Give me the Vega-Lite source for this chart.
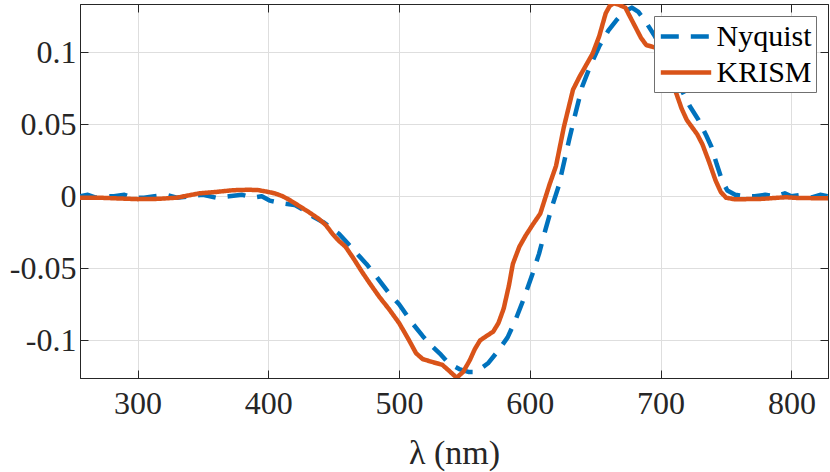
{
  "$schema": "https://vega.github.io/schema/vega-lite/v6.json",
  "autosize": "none",
  "padding": {"left": 80, "top": 4, "right": 2, "bottom": 94},
  "width": 748,
  "height": 374,
  "background": "white",
  "datasets": {
    "spectra": [
      {"lambda": 256, "value": 0.000, "series": "Nyquist"},
      {"lambda": 262, "value": 0.001, "series": "Nyquist"},
      {"lambda": 268, "value": -0.001, "series": "Nyquist"},
      {"lambda": 275, "value": 0.000, "series": "Nyquist"},
      {"lambda": 282, "value": 0.000, "series": "Nyquist"},
      {"lambda": 290, "value": 0.001, "series": "Nyquist"},
      {"lambda": 297, "value": -0.001, "series": "Nyquist"},
      {"lambda": 305, "value": -0.001, "series": "Nyquist"},
      {"lambda": 313, "value": 0.000, "series": "Nyquist"},
      {"lambda": 322, "value": 0.001, "series": "Nyquist"},
      {"lambda": 330, "value": -0.001, "series": "Nyquist"},
      {"lambda": 340, "value": 0.000, "series": "Nyquist"},
      {"lambda": 350, "value": 0.001, "series": "Nyquist"},
      {"lambda": 360, "value": -0.001, "series": "Nyquist"},
      {"lambda": 370, "value": 0.000, "series": "Nyquist"},
      {"lambda": 380, "value": 0.001, "series": "Nyquist"},
      {"lambda": 388, "value": -0.001, "series": "Nyquist"},
      {"lambda": 395, "value": 0.000, "series": "Nyquist"},
      {"lambda": 401, "value": -0.003, "series": "Nyquist"},
      {"lambda": 406, "value": -0.004, "series": "Nyquist"},
      {"lambda": 412, "value": -0.005, "series": "Nyquist"},
      {"lambda": 420, "value": -0.006, "series": "Nyquist"},
      {"lambda": 428, "value": -0.010, "series": "Nyquist"},
      {"lambda": 434, "value": -0.014, "series": "Nyquist"},
      {"lambda": 442, "value": -0.018, "series": "Nyquist"},
      {"lambda": 448, "value": -0.022, "series": "Nyquist"},
      {"lambda": 454, "value": -0.026, "series": "Nyquist"},
      {"lambda": 460, "value": -0.032, "series": "Nyquist"},
      {"lambda": 467, "value": -0.039, "series": "Nyquist"},
      {"lambda": 475, "value": -0.047, "series": "Nyquist"},
      {"lambda": 482, "value": -0.055, "series": "Nyquist"},
      {"lambda": 492, "value": -0.067, "series": "Nyquist"},
      {"lambda": 500, "value": -0.075, "series": "Nyquist"},
      {"lambda": 510, "value": -0.088, "series": "Nyquist"},
      {"lambda": 518, "value": -0.097, "series": "Nyquist"},
      {"lambda": 525, "value": -0.104, "series": "Nyquist"},
      {"lambda": 532, "value": -0.110, "series": "Nyquist"},
      {"lambda": 538, "value": -0.116, "series": "Nyquist"},
      {"lambda": 546, "value": -0.120, "series": "Nyquist"},
      {"lambda": 553, "value": -0.122, "series": "Nyquist"},
      {"lambda": 558, "value": -0.122, "series": "Nyquist"},
      {"lambda": 562, "value": -0.120, "series": "Nyquist"},
      {"lambda": 568, "value": -0.116, "series": "Nyquist"},
      {"lambda": 576, "value": -0.107, "series": "Nyquist"},
      {"lambda": 583, "value": -0.098, "series": "Nyquist"},
      {"lambda": 589, "value": -0.086, "series": "Nyquist"},
      {"lambda": 595, "value": -0.072, "series": "Nyquist"},
      {"lambda": 602, "value": -0.054, "series": "Nyquist"},
      {"lambda": 607, "value": -0.040, "series": "Nyquist"},
      {"lambda": 612, "value": -0.023, "series": "Nyquist"},
      {"lambda": 617, "value": -0.007, "series": "Nyquist"},
      {"lambda": 622, "value": 0.007, "series": "Nyquist"},
      {"lambda": 630, "value": 0.039, "series": "Nyquist"},
      {"lambda": 635, "value": 0.058, "series": "Nyquist"},
      {"lambda": 640, "value": 0.076, "series": "Nyquist"},
      {"lambda": 646, "value": 0.090, "series": "Nyquist"},
      {"lambda": 653, "value": 0.104, "series": "Nyquist"},
      {"lambda": 660, "value": 0.115, "series": "Nyquist"},
      {"lambda": 666, "value": 0.122, "series": "Nyquist"},
      {"lambda": 672, "value": 0.128, "series": "Nyquist"},
      {"lambda": 678, "value": 0.131, "series": "Nyquist"},
      {"lambda": 683, "value": 0.128, "series": "Nyquist"},
      {"lambda": 688, "value": 0.122, "series": "Nyquist"},
      {"lambda": 695, "value": 0.112, "series": "Nyquist"},
      {"lambda": 703, "value": 0.099, "series": "Nyquist"},
      {"lambda": 710, "value": 0.086, "series": "Nyquist"},
      {"lambda": 716, "value": 0.074, "series": "Nyquist"},
      {"lambda": 722, "value": 0.063, "series": "Nyquist"},
      {"lambda": 729, "value": 0.053, "series": "Nyquist"},
      {"lambda": 735, "value": 0.042, "series": "Nyquist"},
      {"lambda": 739, "value": 0.034, "series": "Nyquist"},
      {"lambda": 743, "value": 0.022, "series": "Nyquist"},
      {"lambda": 747, "value": 0.011, "series": "Nyquist"},
      {"lambda": 751, "value": 0.004, "series": "Nyquist"},
      {"lambda": 757, "value": 0.001, "series": "Nyquist"},
      {"lambda": 765, "value": 0.000, "series": "Nyquist"},
      {"lambda": 772, "value": 0.000, "series": "Nyquist"},
      {"lambda": 780, "value": 0.001, "series": "Nyquist"},
      {"lambda": 788, "value": 0.000, "series": "Nyquist"},
      {"lambda": 795, "value": 0.002, "series": "Nyquist"},
      {"lambda": 800, "value": 0.000, "series": "Nyquist"},
      {"lambda": 808, "value": 0.001, "series": "Nyquist"},
      {"lambda": 815, "value": -0.001, "series": "Nyquist"},
      {"lambda": 822, "value": 0.001, "series": "Nyquist"},
      {"lambda": 828, "value": 0.000, "series": "Nyquist"},
      {"lambda": 256, "value": -0.001, "series": "KRISM"},
      {"lambda": 270, "value": -0.001, "series": "KRISM"},
      {"lambda": 285, "value": -0.0015, "series": "KRISM"},
      {"lambda": 300, "value": -0.002, "series": "KRISM"},
      {"lambda": 316, "value": -0.0018, "series": "KRISM"},
      {"lambda": 330, "value": -0.001, "series": "KRISM"},
      {"lambda": 347, "value": 0.002, "series": "KRISM"},
      {"lambda": 360, "value": 0.003, "series": "KRISM"},
      {"lambda": 373, "value": 0.0042, "series": "KRISM"},
      {"lambda": 385, "value": 0.0045, "series": "KRISM"},
      {"lambda": 392, "value": 0.0043, "series": "KRISM"},
      {"lambda": 400, "value": 0.003, "series": "KRISM"},
      {"lambda": 405, "value": 0.002, "series": "KRISM"},
      {"lambda": 411, "value": 0.000, "series": "KRISM"},
      {"lambda": 417, "value": -0.003, "series": "KRISM"},
      {"lambda": 424, "value": -0.007, "series": "KRISM"},
      {"lambda": 431, "value": -0.011, "series": "KRISM"},
      {"lambda": 439, "value": -0.016, "series": "KRISM"},
      {"lambda": 444, "value": -0.020, "series": "KRISM"},
      {"lambda": 449, "value": -0.026, "series": "KRISM"},
      {"lambda": 454, "value": -0.031, "series": "KRISM"},
      {"lambda": 459, "value": -0.035, "series": "KRISM"},
      {"lambda": 465, "value": -0.043, "series": "KRISM"},
      {"lambda": 472, "value": -0.053, "series": "KRISM"},
      {"lambda": 478, "value": -0.061, "series": "KRISM"},
      {"lambda": 485, "value": -0.070, "series": "KRISM"},
      {"lambda": 492, "value": -0.078, "series": "KRISM"},
      {"lambda": 500, "value": -0.088, "series": "KRISM"},
      {"lambda": 507, "value": -0.099, "series": "KRISM"},
      {"lambda": 513, "value": -0.109, "series": "KRISM"},
      {"lambda": 518, "value": -0.113, "series": "KRISM"},
      {"lambda": 525, "value": -0.115, "series": "KRISM"},
      {"lambda": 533, "value": -0.117, "series": "KRISM"},
      {"lambda": 538, "value": -0.121, "series": "KRISM"},
      {"lambda": 544, "value": -0.126, "series": "KRISM"},
      {"lambda": 549, "value": -0.122, "series": "KRISM"},
      {"lambda": 554, "value": -0.114, "series": "KRISM"},
      {"lambda": 558, "value": -0.106, "series": "KRISM"},
      {"lambda": 562, "value": -0.100, "series": "KRISM"},
      {"lambda": 567, "value": -0.097, "series": "KRISM"},
      {"lambda": 572, "value": -0.094, "series": "KRISM"},
      {"lambda": 576, "value": -0.088, "series": "KRISM"},
      {"lambda": 580, "value": -0.078, "series": "KRISM"},
      {"lambda": 584, "value": -0.062, "series": "KRISM"},
      {"lambda": 587, "value": -0.047, "series": "KRISM"},
      {"lambda": 592, "value": -0.035, "series": "KRISM"},
      {"lambda": 597, "value": -0.027, "series": "KRISM"},
      {"lambda": 602, "value": -0.020, "series": "KRISM"},
      {"lambda": 608, "value": -0.012, "series": "KRISM"},
      {"lambda": 615, "value": 0.008, "series": "KRISM"},
      {"lambda": 620, "value": 0.021, "series": "KRISM"},
      {"lambda": 626, "value": 0.048, "series": "KRISM"},
      {"lambda": 633, "value": 0.074, "series": "KRISM"},
      {"lambda": 638, "value": 0.083, "series": "KRISM"},
      {"lambda": 643, "value": 0.091, "series": "KRISM"},
      {"lambda": 648, "value": 0.099, "series": "KRISM"},
      {"lambda": 653, "value": 0.111, "series": "KRISM"},
      {"lambda": 658, "value": 0.127, "series": "KRISM"},
      {"lambda": 661, "value": 0.132, "series": "KRISM"},
      {"lambda": 664, "value": 0.134, "series": "KRISM"},
      {"lambda": 668, "value": 0.133, "series": "KRISM"},
      {"lambda": 673, "value": 0.131, "series": "KRISM"},
      {"lambda": 677, "value": 0.124, "series": "KRISM"},
      {"lambda": 681, "value": 0.117, "series": "KRISM"},
      {"lambda": 685, "value": 0.110, "series": "KRISM"},
      {"lambda": 689, "value": 0.105, "series": "KRISM"},
      {"lambda": 693, "value": 0.104, "series": "KRISM"},
      {"lambda": 697, "value": 0.103, "series": "KRISM"},
      {"lambda": 701, "value": 0.100, "series": "KRISM"},
      {"lambda": 706, "value": 0.090, "series": "KRISM"},
      {"lambda": 711, "value": 0.074, "series": "KRISM"},
      {"lambda": 716, "value": 0.061, "series": "KRISM"},
      {"lambda": 720, "value": 0.053, "series": "KRISM"},
      {"lambda": 724, "value": 0.048, "series": "KRISM"},
      {"lambda": 728, "value": 0.043, "series": "KRISM"},
      {"lambda": 732, "value": 0.036, "series": "KRISM"},
      {"lambda": 737, "value": 0.024, "series": "KRISM"},
      {"lambda": 742, "value": 0.011, "series": "KRISM"},
      {"lambda": 746, "value": 0.003, "series": "KRISM"},
      {"lambda": 750, "value": -0.001, "series": "KRISM"},
      {"lambda": 756, "value": -0.002, "series": "KRISM"},
      {"lambda": 765, "value": -0.002, "series": "KRISM"},
      {"lambda": 778, "value": -0.0018, "series": "KRISM"},
      {"lambda": 790, "value": -0.001, "series": "KRISM"},
      {"lambda": 796, "value": -0.0007, "series": "KRISM"},
      {"lambda": 805, "value": -0.0012, "series": "KRISM"},
      {"lambda": 815, "value": -0.0013, "series": "KRISM"},
      {"lambda": 828, "value": -0.0013, "series": "KRISM"}
    ]
  },
  "data": {"name": "spectra"},
  "layer": [
    {
      "transform": [{"filter": "datum.series === 'Nyquist'"}],
      "mark": {"type": "line", "strokeWidth": 4.5, "strokeCap": "butt", "strokeJoin": "round", "clip": true},
      "encoding": {
        "x": {
          "field": "lambda", "type": "quantitative",
          "scale": {"domain": [256, 828], "nice": false, "zero": false},
          "axis": {
            "orient": "bottom", "title": "λ (nm)", "values": [300, 400, 500, 600, 700, 800],
            "grid": true, "tickSize": -8, "labelPadding": 18, "titlePadding": 17
          }
        },
        "y": {
          "field": "value", "type": "quantitative",
          "scale": {"domain": [-0.1262, 0.1335], "nice": false, "zero": false},
          "axis": {
            "orient": "left", "title": null, "values": [-0.1, -0.05, 0, 0.05, 0.1],
            "labelExpr": "'' + datum.value", "grid": true, "tickSize": -8, "labelPadding": 12
          }
        },
        "color": {
          "field": "series", "type": "nominal", "title": null,
          "scale": {"domain": ["Nyquist", "KRISM"], "range": ["#0072BD", "#D95319"]}
        },
        "strokeDash": {
          "field": "series", "type": "nominal", "title": null,
          "scale": {"domain": ["Nyquist", "KRISM"], "range": [[18, 12], [1, 0]]}
        }
      }
    },
    {
      "transform": [{"filter": "datum.series === 'KRISM'"}],
      "mark": {"type": "line", "strokeWidth": 4.5, "strokeCap": "butt", "strokeJoin": "round", "clip": true},
      "encoding": {
        "x": {
          "field": "lambda", "type": "quantitative",
          "axis": {"orient": "top", "title": null, "values": [300, 400, 500, 600, 700, 800], "labels": false, "grid": false, "tickSize": -8}
        },
        "y": {
          "field": "value", "type": "quantitative",
          "axis": {"orient": "right", "title": null, "values": [-0.1, -0.05, 0, 0.05, 0.1], "labels": false, "grid": false, "tickSize": -8}
        },
        "color": {"field": "series", "type": "nominal", "title": null},
        "strokeDash": {"field": "series", "type": "nominal", "title": null}
      }
    }
  ],
  "resolve": {"axis": {"x": "independent", "y": "independent"}},
  "config": {
    "view": {"stroke": "#262626", "strokeWidth": 1},
    "font": "Liberation Serif",
    "axis": {
      "domainColor": "#262626",
      "domainWidth": 1,
      "tickColor": "#262626",
      "tickWidth": 1,
      "gridColor": "#dedede",
      "gridWidth": 1,
      "labelFont": "Liberation Serif",
      "labelFontSize": 32,
      "labelColor": "#262626",
      "titleFont": "Liberation Serif",
      "titleFontSize": 34,
      "titleFontWeight": "normal",
      "titleColor": "#262626",
      "labelOverlap": false,
      "labelFlush": false
    },
    "legend": {
      "orient": "top-right",
      "offset": 12,
      "fillColor": "white",
      "strokeColor": "#707070",
      "padding": 4,
      "symbolType": "M-1.8,0H1.8",
      "symbolSize": 784,
      "symbolOffset": 11.5,
      "symbolStrokeWidth": 4.5,
      "labelFont": "Liberation Serif",
      "labelFontSize": 30,
      "labelColor": "black",
      "labelOffset": 14,
      "rowPadding": 4,
      "cornerRadius": 0
    }
  }
}
